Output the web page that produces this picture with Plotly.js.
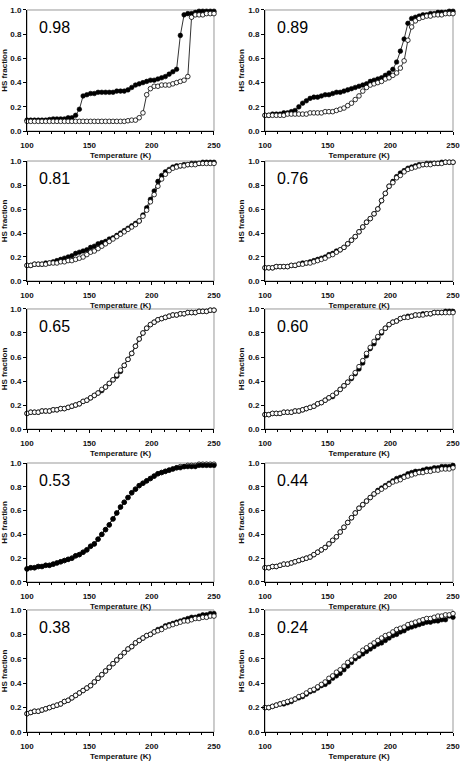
<!DOCTYPE html>
<html><head><meta charset="utf-8">
<script src="https://cdn.plot.ly/plotly-3.0.1.min.js"></script>
<style>html,body{margin:0;padding:0;background:#fff}#chart{width:465px;height:769px}</style>
</head><body><div id="chart"></div>
<script>
// Temperature grid (K)
const T = [100,103,106,109,112,115,118,121,124,127,130,133,136,139,142,145,148,151,154,157,160,163,166,169,172,175,178,181,184,187,190,193,196,199,202,205,208,211,214,217,220,223,226,229,232,235,238,241,244,247,250];

const panelLabels = ["0.98","0.89","0.81","0.76","0.65","0.60","0.53","0.44","0.38","0.24"];

const fill_098 = [0.09,0.09,0.09,0.09,0.09,0.09,0.095,0.10,0.10,0.10,0.10,0.11,0.11,0.13,0.18,0.29,0.30,0.31,0.31,0.32,0.32,0.32,0.32,0.32,0.33,0.33,0.33,0.34,0.36,0.38,0.39,0.40,0.41,0.42,0.42,0.43,0.44,0.45,0.47,0.49,0.51,0.79,0.96,0.97,0.97,0.98,0.99,0.99,0.99,0.99,0.99];
const open_098 = [0.08,0.08,0.08,0.08,0.08,0.08,0.08,0.08,0.08,0.08,0.08,0.08,0.08,0.08,0.08,0.08,0.08,0.08,0.08,0.08,0.08,0.08,0.08,0.08,0.08,0.08,0.08,0.085,0.09,0.09,0.11,0.15,0.30,0.35,0.37,0.37,0.38,0.38,0.38,0.39,0.40,0.41,0.42,0.45,0.94,0.96,0.96,0.96,0.97,0.97,0.97];

const fill_089 = [0.13,0.13,0.14,0.14,0.14,0.15,0.15,0.16,0.17,0.20,0.23,0.25,0.27,0.28,0.28,0.29,0.30,0.30,0.31,0.32,0.32,0.33,0.34,0.35,0.36,0.37,0.38,0.39,0.41,0.42,0.43,0.44,0.46,0.48,0.51,0.57,0.66,0.76,0.89,0.93,0.94,0.95,0.96,0.96,0.97,0.97,0.98,0.98,0.98,0.99,0.99];
const open_089 = [0.13,0.13,0.13,0.13,0.13,0.13,0.14,0.14,0.14,0.14,0.14,0.14,0.15,0.15,0.15,0.15,0.16,0.16,0.16,0.17,0.18,0.19,0.21,0.23,0.26,0.29,0.33,0.36,0.38,0.39,0.40,0.41,0.43,0.44,0.46,0.48,0.52,0.58,0.75,0.86,0.91,0.93,0.94,0.95,0.95,0.96,0.96,0.96,0.97,0.97,0.97];

const fill_081 = [0.13,0.13,0.14,0.14,0.14,0.15,0.15,0.16,0.17,0.18,0.19,0.20,0.21,0.23,0.24,0.25,0.26,0.28,0.29,0.31,0.32,0.33,0.35,0.36,0.38,0.40,0.42,0.44,0.46,0.48,0.50,0.55,0.61,0.68,0.75,0.83,0.88,0.91,0.93,0.95,0.96,0.96,0.97,0.97,0.98,0.98,0.98,0.99,0.99,0.99,0.99];
const open_081 = [0.13,0.13,0.14,0.14,0.14,0.14,0.15,0.15,0.15,0.16,0.16,0.17,0.17,0.18,0.19,0.20,0.22,0.24,0.25,0.27,0.29,0.31,0.33,0.35,0.37,0.39,0.41,0.43,0.45,0.47,0.50,0.54,0.59,0.66,0.72,0.79,0.85,0.89,0.92,0.94,0.95,0.96,0.96,0.97,0.97,0.97,0.98,0.98,0.98,0.98,0.98];

const fill_076 = [0.11,0.11,0.11,0.12,0.12,0.12,0.12,0.13,0.13,0.14,0.15,0.15,0.16,0.17,0.18,0.19,0.20,0.22,0.23,0.25,0.26,0.28,0.31,0.34,0.37,0.41,0.45,0.49,0.52,0.56,0.60,0.67,0.73,0.79,0.83,0.87,0.90,0.92,0.94,0.95,0.96,0.97,0.97,0.98,0.98,0.98,0.98,0.99,0.99,0.99,0.99];
const open_076 = [0.11,0.11,0.11,0.12,0.12,0.12,0.12,0.13,0.13,0.14,0.14,0.15,0.15,0.16,0.17,0.18,0.19,0.21,0.22,0.24,0.26,0.28,0.31,0.34,0.37,0.41,0.45,0.49,0.52,0.56,0.60,0.67,0.73,0.79,0.82,0.86,0.88,0.91,0.93,0.94,0.95,0.96,0.97,0.97,0.97,0.98,0.98,0.98,0.99,0.99,0.99];

const fill_065 = [0.13,0.14,0.14,0.14,0.15,0.15,0.15,0.16,0.16,0.17,0.17,0.18,0.19,0.20,0.21,0.23,0.24,0.26,0.28,0.30,0.32,0.35,0.38,0.41,0.44,0.48,0.53,0.58,0.63,0.69,0.75,0.80,0.84,0.87,0.89,0.91,0.92,0.93,0.94,0.95,0.95,0.96,0.96,0.97,0.97,0.97,0.98,0.98,0.98,0.99,0.99];
const open_065 = [0.13,0.14,0.14,0.14,0.15,0.15,0.15,0.16,0.16,0.17,0.17,0.18,0.19,0.20,0.21,0.23,0.24,0.26,0.28,0.30,0.33,0.35,0.38,0.41,0.45,0.49,0.53,0.58,0.63,0.69,0.75,0.80,0.84,0.87,0.89,0.91,0.92,0.93,0.94,0.95,0.95,0.96,0.96,0.97,0.97,0.97,0.98,0.98,0.98,0.99,0.99];

const fill_060 = [0.12,0.12,0.13,0.13,0.13,0.14,0.14,0.14,0.15,0.15,0.16,0.17,0.18,0.19,0.21,0.22,0.24,0.26,0.27,0.30,0.33,0.36,0.39,0.42,0.46,0.50,0.55,0.61,0.67,0.71,0.76,0.80,0.84,0.87,0.89,0.90,0.92,0.93,0.94,0.94,0.95,0.95,0.96,0.96,0.96,0.97,0.97,0.97,0.98,0.98,0.98];
const open_060 = [0.12,0.12,0.13,0.13,0.13,0.14,0.14,0.14,0.15,0.15,0.16,0.17,0.18,0.19,0.21,0.22,0.24,0.26,0.28,0.30,0.33,0.36,0.39,0.43,0.47,0.52,0.57,0.63,0.68,0.73,0.77,0.81,0.84,0.87,0.89,0.90,0.92,0.93,0.93,0.94,0.95,0.95,0.95,0.96,0.96,0.97,0.97,0.97,0.97,0.97,0.97];

const fill_053 = [0.11,0.12,0.12,0.13,0.13,0.14,0.14,0.15,0.16,0.17,0.18,0.19,0.20,0.22,0.23,0.25,0.27,0.30,0.32,0.36,0.40,0.44,0.48,0.53,0.58,0.63,0.67,0.71,0.75,0.78,0.81,0.83,0.85,0.87,0.89,0.91,0.92,0.93,0.94,0.95,0.96,0.96,0.97,0.97,0.97,0.97,0.98,0.98,0.98,0.98,0.98];
const open_053 = [0.11,0.12,0.12,0.13,0.13,0.14,0.14,0.15,0.16,0.17,0.18,0.19,0.20,0.22,0.23,0.25,0.27,0.30,0.32,0.36,0.40,0.44,0.48,0.53,0.58,0.63,0.67,0.71,0.75,0.78,0.81,0.83,0.85,0.87,0.89,0.91,0.92,0.93,0.94,0.95,0.96,0.97,0.97,0.98,0.98,0.98,0.99,0.99,0.99,0.99,0.99];

const fill_044 = [0.12,0.12,0.13,0.13,0.14,0.15,0.15,0.16,0.17,0.18,0.19,0.20,0.21,0.23,0.25,0.27,0.29,0.32,0.35,0.38,0.42,0.46,0.50,0.54,0.58,0.62,0.65,0.68,0.71,0.74,0.77,0.79,0.81,0.83,0.85,0.87,0.88,0.89,0.91,0.92,0.93,0.93,0.94,0.95,0.95,0.96,0.96,0.97,0.97,0.97,0.98];
const open_044 = [0.12,0.12,0.13,0.13,0.14,0.15,0.15,0.16,0.17,0.18,0.19,0.20,0.21,0.23,0.25,0.27,0.29,0.32,0.35,0.38,0.42,0.46,0.50,0.54,0.58,0.62,0.65,0.68,0.71,0.74,0.76,0.78,0.80,0.82,0.84,0.85,0.86,0.88,0.89,0.90,0.91,0.92,0.92,0.93,0.93,0.94,0.94,0.95,0.95,0.95,0.96];

const fill_038 = [0.15,0.16,0.17,0.17,0.18,0.19,0.20,0.21,0.22,0.23,0.25,0.26,0.28,0.30,0.32,0.34,0.36,0.38,0.41,0.44,0.47,0.50,0.53,0.56,0.59,0.62,0.65,0.68,0.70,0.73,0.75,0.77,0.79,0.80,0.82,0.84,0.85,0.87,0.88,0.89,0.90,0.91,0.92,0.93,0.94,0.94,0.95,0.96,0.96,0.97,0.97];
const open_038 = [0.15,0.16,0.17,0.17,0.18,0.19,0.20,0.21,0.22,0.23,0.25,0.26,0.28,0.30,0.32,0.34,0.36,0.38,0.41,0.44,0.47,0.50,0.53,0.56,0.59,0.62,0.65,0.68,0.70,0.73,0.75,0.77,0.79,0.80,0.82,0.83,0.84,0.86,0.87,0.88,0.89,0.90,0.91,0.91,0.92,0.93,0.93,0.94,0.94,0.95,0.95];

const fill_024 = [0.20,0.20,0.21,0.22,0.23,0.23,0.24,0.25,0.27,0.28,0.29,0.31,0.33,0.34,0.36,0.38,0.39,0.41,0.44,0.46,0.48,0.51,0.54,0.57,0.60,0.62,0.64,0.66,0.68,0.70,0.72,0.73,0.75,0.77,0.79,0.80,0.82,0.83,0.85,0.86,0.87,0.88,0.89,0.90,0.90,0.91,0.91,0.92,0.92,0.95,0.94];
const open_024 = [0.20,0.20,0.21,0.22,0.23,0.24,0.25,0.26,0.27,0.29,0.30,0.32,0.34,0.35,0.37,0.39,0.41,0.44,0.46,0.49,0.51,0.54,0.57,0.59,0.62,0.64,0.67,0.69,0.71,0.73,0.75,0.77,0.79,0.80,0.82,0.84,0.85,0.86,0.88,0.89,0.90,0.91,0.92,0.93,0.93,0.94,0.95,0.95,0.96,0.96,0.97];

const filledSeries = [fill_098,fill_089,fill_081,fill_076,fill_065,fill_060,fill_053,fill_044,fill_038,fill_024];
const openSeries = [open_098,open_089,open_081,open_076,open_065,open_060,open_053,open_044,open_038,open_024];

const colDomains = [[0.0581,0.4602],[0.5699,0.9742]];
const rowDomains = [[0.8296,0.9870],[0.6346,0.7906],[0.4421,0.5982],[0.2432,0.3979],[0.0481,0.2068]];

const tickFont = {family:'Liberation Sans, Arial, sans-serif', size:8, weight:700, color:'#111'};
const data = [];
const layout = {
  width:465, height:769, margin:{l:0,r:0,t:0,b:0},
  paper_bgcolor:'#fff', plot_bgcolor:'#fff', showlegend:false,
  annotations:[], shapes:[]
};

for (let i=0;i<10;i++){
  const n = i===0 ? '' : String(i+1);
  const col = i%2, row = Math.floor(i/2);
  const xa = 'x'+n, ya = 'y'+n;
  const filled = {x:T, y:filledSeries[i], xaxis:xa, yaxis:ya, type:'scatter', mode:'lines+markers',
    cliponaxis:false,
    line:{color:'#000', width:0.8},
    marker:{symbol:'circle', size:4.6, color:'#000', line:{color:'#000', width:0.6}}};
  const open = {x:T, y:openSeries[i], xaxis:xa, yaxis:ya, type:'scatter', mode:'lines+markers',
    cliponaxis:false,
    line:{color:'#000', width:0.8},
    marker:{symbol:'circle', size:4.6, color:'#fff', line:{color:'#000', width:0.8}}};
  if (i===6) { data.push(open, filled); } else { data.push(filled, open); }

  layout['xaxis'+n] = {
    domain: colDomains[col], anchor: ya, range:[100,250],
    tickvals:[100,150,200,250], ticks:'outside', ticklen:3, tickwidth:1, tickcolor:'#000',
    showline:true, linecolor:'#000', linewidth:1, showgrid:false, zeroline:false,
    tickfont: tickFont, ticklabelstandoff:3,
    minor:{tick0:100, dtick:10, ticks:'outside', ticklen:2, tickcolor:'#000', showgrid:false},
    title:{text:'Temperature (K)', font:tickFont, standoff:3}
  };
  layout['yaxis'+n] = {
    domain: rowDomains[row], anchor: xa, range:[0,1],
    tick0:0, dtick:0.2, tickformat:'.1f', ticks:'outside', ticklen:3, tickwidth:1, tickcolor:'#000',
    showline:true, linecolor:'#000', linewidth:1, showgrid:false, zeroline:false,
    tickfont: tickFont,
    title:{text:'HS fraction', font:tickFont, standoff:2}
  };
  layout.shapes.push({type:'rect', xref:xa+' domain', yref:ya+' domain', x0:0, x1:1, y0:0, y1:1,
    line:{color:'#999', width:1}, layer:'below'});
  layout.annotations.push({text:panelLabels[i], xref:xa+' domain', yref:ya+' domain',
    x:0.145, y:0.855, xanchor:'center', yanchor:'middle', showarrow:false,
    font:{family:'Liberation Sans, Arial, sans-serif', size:16, color:'#000'}});
}

Plotly.newPlot('chart', data, layout, {staticPlot:true, displayModeBar:false});
</script></body></html>
